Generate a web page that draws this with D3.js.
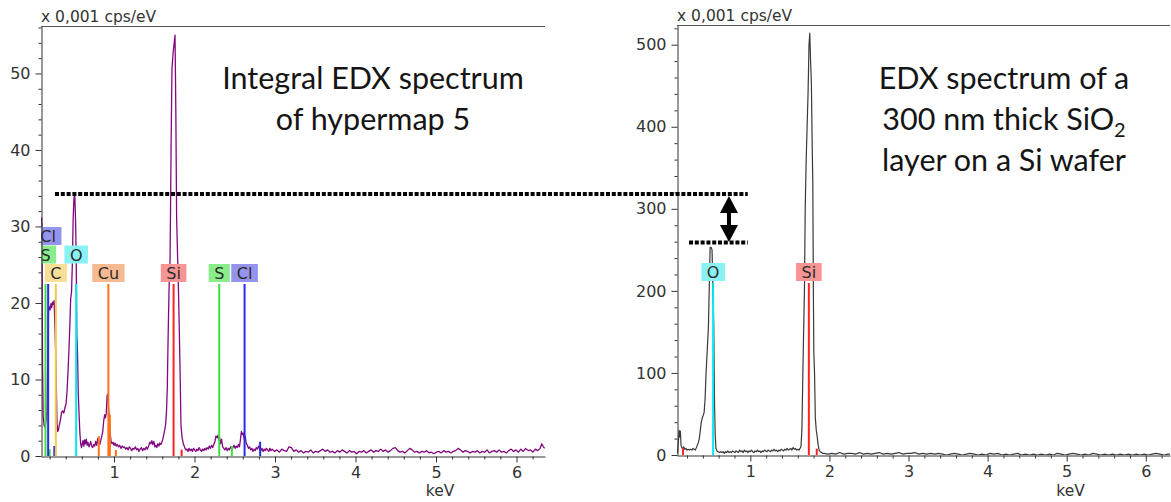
<!DOCTYPE html>
<html>
<head>
<meta charset="utf-8">
<script src="https://cdn.jsdelivr.net/npm/d3@7"></script>
<style>
  body { margin: 0; background: #fff; }
  svg { display: block; }
  .tick text { font-family: 'DejaVu Sans', Verdana, sans-serif; font-size: 16px; fill: #333; }
  .unit { font-family: 'DejaVu Sans', Verdana, sans-serif; font-size: 15.5px; fill: #333; }
  .note { font-family: Lato, 'Open Sans', sans-serif; font-size: 30.5px; fill: #151515; }
  .tag { font-family: 'DejaVu Sans', Verdana, sans-serif; font-size: 16px; fill: #2a2a2a; }
</style>
</head>
<body>
<svg id="chart" width="1171" height="502"></svg>
<script>
// tick labels
const xTicks = [1, 2, 3, 4, 5, 6]
const leftYTicks = [0, 10, 20, 30, 40, 50]
const rightYTicks = [0, 100, 200, 300, 400, 500]

// integral spectrum of hypermap 5, [keV, x0.001 cps/eV]
const hypermapSpectrum = [
  [0.100, 31.2], [0.106, 29.8], [0.112, 12.0], [0.120, 5.2], [0.132, 4.0], [0.144, 3.8], [0.156, 4.6],
  [0.166, 5.8], [0.176, 11.8], [0.186, 18.9], [0.196, 19.5], [0.206, 19.1], [0.216, 19.9], [0.226, 19.4],
  [0.236, 20.1], [0.246, 19.8], [0.256, 20.3], [0.266, 16.8], [0.276, 13.4], [0.284, 8.7], [0.292, 4.3],
  [0.300, 3.2], [0.310, 3.4], [0.320, 4.0], [0.334, 4.7], [0.348, 5.7], [0.362, 5.9], [0.376, 5.6],
  [0.390, 6.3], [0.404, 6.8], [0.416, 8.4], [0.428, 10.9], [0.440, 13.8], [0.452, 17.3], [0.462, 20.6],
  [0.472, 21.4], [0.482, 24.9], [0.492, 30.8], [0.502, 33.6], [0.512, 34.4], [0.522, 30.9], [0.530, 26.4],
  [0.538, 15.9], [0.546, 13.7], [0.556, 8.3], [0.566, 5.4], [0.576, 3.0], [0.586, 1.6], [0.596, 1.1],
  [0.606, 1.6], [0.615, 2.0], [0.625, 1.3], [0.635, 2.1], [0.645, 1.6], [0.655, 2.2], [0.665, 1.4],
  [0.675, 1.8], [0.690, 1.2], [0.700, 1.5], [0.710, 1.9], [0.722, 1.3], [0.735, 1.1], [0.748, 1.5],
  [0.760, 1.3], [0.772, 1.9], [0.785, 1.4], [0.798, 2.3], [0.810, 1.7], [0.822, 1.5], [0.835, 2.0],
  [0.848, 2.6], [0.860, 3.2], [0.872, 4.6], [0.884, 5.4], [0.894, 5.0], [0.904, 5.6], [0.914, 7.9],
  [0.924, 8.1], [0.934, 6.0], [0.944, 4.4], [0.954, 2.8], [0.964, 1.9], [0.976, 1.6], [0.988, 1.8],
  [1.000, 1.4], [1.012, 1.7], [1.025, 1.3], [1.040, 1.5], [1.055, 1.2], [1.070, 1.4], [1.085, 1.0],
  [1.100, 1.3], [1.115, 1.1], [1.130, 1.2], [1.145, 0.9], [1.160, 1.1], [1.175, 0.8], [1.190, 1.2],
  [1.205, 1.0], [1.220, 0.7], [1.235, 1.0], [1.250, 0.9], [1.265, 1.2], [1.280, 0.8], [1.295, 1.0],
  [1.310, 0.6], [1.325, 0.9], [1.340, 1.1], [1.355, 0.7], [1.370, 1.0], [1.385, 0.8], [1.400, 1.2],
  [1.415, 0.9], [1.430, 1.3], [1.445, 1.8], [1.458, 1.6], [1.470, 2.0], [1.482, 1.5], [1.495, 1.9],
  [1.508, 1.2], [1.520, 1.4], [1.532, 1.1], [1.545, 1.6], [1.558, 1.3], [1.570, 1.7], [1.582, 1.5],
  [1.594, 1.8], [1.606, 2.2], [1.618, 2.8], [1.630, 3.4], [1.642, 4.2], [1.652, 5.8], [1.662, 9.0],
  [1.672, 15.5], [1.684, 22.0], [1.696, 25.5], [1.702, 32.0], [1.710, 41.6], [1.720, 50.6], [1.735, 52.8],
  [1.748, 54.0], [1.758, 55.0], [1.768, 45.0], [1.778, 31.0], [1.790, 26.0], [1.800, 22.0], [1.812, 16.0],
  [1.822, 10.4], [1.832, 3.9], [1.846, 2.4], [1.861, 1.6], [1.875, 1.2], [1.890, 0.8], [1.903, 0.9],
  [1.918, 0.6], [1.932, 1.0], [1.946, 0.7], [1.960, 0.9], [1.974, 0.6], [1.988, 1.0], [2.002, 0.8],
  [2.016, 0.6], [2.030, 0.9], [2.044, 0.7], [2.058, 1.1], [2.072, 0.8], [2.086, 0.6], [2.100, 0.9],
  [2.114, 0.7], [2.128, 1.0], [2.142, 0.8], [2.156, 1.1], [2.170, 0.9], [2.184, 1.3], [2.198, 1.0],
  [2.212, 1.4], [2.226, 1.1], [2.240, 1.5], [2.254, 1.9], [2.266, 2.6], [2.278, 2.4], [2.290, 2.7],
  [2.300, 2.1], [2.310, 2.5], [2.322, 1.6], [2.336, 2.2], [2.350, 1.2], [2.364, 1.0], [2.378, 0.8],
  [2.392, 1.1], [2.406, 0.7], [2.420, 1.0], [2.434, 0.8], [2.448, 1.2], [2.462, 0.9], [2.476, 1.1],
  [2.490, 1.4], [2.504, 1.0], [2.518, 1.3], [2.532, 1.1], [2.546, 1.5], [2.558, 1.2], [2.570, 2.1],
  [2.582, 3.2], [2.594, 2.8], [2.606, 3.0], [2.618, 2.2], [2.630, 2.6], [2.642, 1.7], [2.656, 1.4],
  [2.670, 1.0], [2.684, 1.2], [2.698, 0.8], [2.712, 1.0], [2.726, 0.6], [2.740, 0.9], [2.754, 0.7],
  [2.768, 1.1], [2.782, 0.9], [2.796, 1.3], [2.810, 1.0], [2.824, 0.7], [2.838, 1.0], [2.852, 0.6],
  [2.866, 0.9], [2.880, 0.7], [2.894, 1.0], [2.908, 0.8], [2.922, 0.6], [2.936, 1.0], [2.950, 0.7],
  [2.964, 0.9], [2.994, 0.6], [3.024, 0.8], [3.054, 0.5], [3.084, 0.9], [3.114, 0.7], [3.144, 0.6],
  [3.174, 1.2], [3.204, 1.1], [3.234, 0.6], [3.264, 0.8], [3.294, 0.5], [3.324, 0.7], [3.354, 0.4],
  [3.384, 0.6], [3.414, 0.5], [3.444, 0.8], [3.474, 0.4], [3.504, 0.6], [3.534, 0.5], [3.564, 0.7],
  [3.594, 0.9], [3.624, 0.6], [3.654, 0.8], [3.684, 0.5], [3.714, 0.6], [3.744, 0.4], [3.774, 0.7],
  [3.804, 0.5], [3.834, 0.8], [3.864, 0.6], [3.894, 0.4], [3.924, 0.7], [3.954, 0.5], [3.984, 0.6],
  [4.014, 0.3], [4.044, 0.6], [4.074, 0.5], [4.104, 0.7], [4.134, 0.4], [4.164, 0.6], [4.194, 0.8],
  [4.224, 0.5], [4.254, 0.7], [4.284, 0.6], [4.314, 0.9], [4.344, 0.6], [4.374, 0.8], [4.404, 0.5],
  [4.434, 0.7], [4.464, 1.0], [4.494, 1.1], [4.524, 0.7], [4.554, 0.5], [4.584, 0.6], [4.614, 0.4],
  [4.644, 0.7], [4.674, 1.0], [4.704, 0.8], [4.734, 0.5], [4.764, 0.6], [4.794, 0.4], [4.824, 0.6],
  [4.854, 0.5], [4.884, 0.7], [4.914, 0.4], [4.944, 0.5], [4.974, 0.3], [5.004, 0.5], [5.034, 0.6],
  [5.064, 0.4], [5.094, 0.7], [5.124, 0.5], [5.154, 0.6], [5.184, 0.4], [5.214, 0.6], [5.244, 0.7],
  [5.274, 1.0], [5.304, 0.8], [5.334, 0.5], [5.364, 0.7], [5.394, 0.6], [5.424, 0.4], [5.454, 0.6],
  [5.484, 0.5], [5.514, 0.7], [5.544, 0.4], [5.574, 0.6], [5.604, 0.5], [5.634, 0.8], [5.664, 0.4],
  [5.694, 0.6], [5.724, 0.7], [5.754, 0.5], [5.784, 0.8], [5.814, 0.5], [5.844, 0.6], [5.874, 0.4],
  [5.904, 0.7], [5.934, 0.9], [5.964, 0.6], [5.994, 0.8], [6.024, 0.5], [6.054, 0.9], [6.084, 0.6],
  [6.114, 1.0], [6.144, 0.7], [6.174, 0.8], [6.204, 0.5], [6.234, 0.9], [6.264, 0.7], [6.294, 1.0],
  [6.314, 1.6], [6.334, 1.2], [6.350, 1.0]
]

// 300 nm SiO2 on Si reference spectrum, [keV, x0.001 cps/eV]
const waferSpectrum = [
  [0.078, 2], [0.092, 18], [0.100, 30], [0.108, 22], [0.116, 29], [0.124, 12], [0.134, 9], [0.146, 8],
  [0.158, 10], [0.170, 7], [0.185, 8], [0.200, 6], [0.215, 7], [0.230, 6], [0.245, 7], [0.260, 6],
  [0.275, 8], [0.290, 7], [0.305, 6], [0.318, 9], [0.330, 12], [0.342, 15], [0.355, 20], [0.368, 30],
  [0.380, 40], [0.392, 45], [0.404, 48], [0.416, 52], [0.428, 68], [0.440, 99], [0.455, 127], [0.470, 156],
  [0.482, 210], [0.492, 253], [0.505, 253], [0.516, 250], [0.528, 200], [0.538, 156], [0.548, 60],
  [0.556, 25], [0.566, 8], [0.580, 5], [0.595, 4], [0.610, 3], [0.625, 4], [0.640, 3], [0.655, 4],
  [0.670, 2], [0.685, 4], [0.700, 3], [0.715, 5], [0.730, 3], [0.745, 4], [0.760, 3], [0.775, 5],
  [0.790, 4], [0.805, 3], [0.820, 5], [0.835, 4], [0.850, 3], [0.865, 6], [0.880, 4], [0.895, 5],
  [0.910, 3], [0.925, 6], [0.940, 4], [0.955, 5], [0.970, 3], [0.985, 5], [1.000, 4], [1.015, 6],
  [1.030, 4], [1.045, 3], [1.060, 5], [1.075, 4], [1.090, 6], [1.105, 4], [1.120, 5], [1.135, 3],
  [1.150, 5], [1.165, 4], [1.180, 6], [1.195, 5], [1.210, 4], [1.225, 6], [1.240, 5], [1.255, 4],
  [1.270, 6], [1.285, 5], [1.300, 7], [1.315, 5], [1.330, 6], [1.345, 4], [1.360, 6], [1.375, 5],
  [1.390, 7], [1.405, 6], [1.420, 5], [1.435, 7], [1.450, 6], [1.465, 8], [1.480, 6], [1.495, 7],
  [1.510, 8], [1.525, 6], [1.540, 9], [1.555, 7], [1.570, 8], [1.585, 6], [1.600, 7], [1.615, 6],
  [1.628, 8], [1.640, 10], [1.652, 30], [1.662, 87], [1.672, 140], [1.684, 200], [1.694, 300],
  [1.706, 359], [1.718, 400], [1.730, 441], [1.742, 500], [1.752, 514], [1.762, 480], [1.772, 453],
  [1.782, 380], [1.790, 331], [1.797, 200], [1.803, 125], [1.812, 100], [1.822, 45], [1.834, 30],
  [1.846, 22], [1.858, 12], [1.870, 6], [1.884, 4], [1.900, 3], [1.915, 2], [1.930, 2], [1.980, 1],
  [2.030, 2], [2.080, 1], [2.130, 3], [2.180, 1], [2.230, 2], [2.280, 2], [2.330, 1], [2.380, 3],
  [2.430, 1], [2.480, 2], [2.530, 1], [2.580, 2], [2.630, 3], [2.680, 1], [2.730, 2], [2.780, 1],
  [2.830, 2], [2.880, 3], [2.930, 1], [2.980, 2], [3.030, 2], [3.080, 3], [3.130, 1], [3.180, 2],
  [3.230, 1], [3.280, 2], [3.330, 1], [3.380, 2], [3.430, 1], [3.480, 0], [3.530, 1], [3.580, 2],
  [3.630, 1], [3.680, 0], [3.730, 1], [3.780, 2], [3.830, 1], [3.880, 0], [3.930, 1], [3.980, 0],
  [4.030, 2], [4.080, 1], [4.130, 2], [4.180, 0], [4.230, 1], [4.280, 0], [4.330, 1], [4.380, 2],
  [4.430, 0], [4.480, 1], [4.530, 0], [4.580, 1], [4.630, 0], [4.680, 1], [4.730, 0], [4.780, 1],
  [4.830, 0], [4.880, 2], [4.930, 1], [4.980, 0], [5.030, 1], [5.080, 2], [5.130, 1], [5.180, 0],
  [5.230, 1], [5.280, 0], [5.330, 2], [5.380, 1], [5.430, 0], [5.480, 1], [5.530, 0], [5.580, 1],
  [5.630, 0], [5.680, 1], [5.730, 0], [5.780, 1], [5.830, 0], [5.880, 1], [5.930, 0], [5.980, 1],
  [6.030, 0], [6.080, 1], [6.130, 2], [6.180, 1], [6.230, 0], [6.280, 1], [6.306, 1]
]

// element marker lines: [element, keV]; K lines first, then L lines (label stacking order)
const leftMarkers = [['C', 0.277], ['O', 0.53], ['Si', 1.74], ['S', 2.307], ['Cl', 2.622], ['Cu', 0.93], ['S', 0.149], ['Cl', 0.182]]
const rightMarkers = [['O', 0.53], ['Si', 1.74]]
// secondary lines: [element, keV, relative height]
const leftMinorMarkers = [['Cl', 0.258, 0.058], ['S', 0.200, 0.04], ['Cu', 0.811, 0.116], ['Cu', 0.949, 0.24],
  ['Cu', 1.023, 0.035], ['Si', 1.84, 0.037], ['S', 2.464, 0.058], ['Cl', 2.815, 0.083]]
const rightMinorMarkers = [['Si', 0.149, 0.04], ['Si', 1.84, 0.037]]

// levels compared between the two spectra (O peak heights)
const leftLevel = 34.25
const rightLevel = 259

const lineColor = { C: '#f2c84e', O: '#00e6f0', Si: '#ff2424', S: '#3ee03e', Cl: '#2a2ae8', Cu: '#ff7418' }
const boxColor = { C: '#f8df98', O: '#8af2f4', Si: '#f79494', S: '#8aec8a', Cl: '#9494ee', Cu: '#f6b990' }

const svg = d3.select('#chart')

const panels = [
  { id: 'l', left: 41, right: 545, bottom: 456, top: 26, keV: [0.093, 6.354], cps: [0, 56.2],
    yTicks: leftYTicks, yStep: 2, data: hypermapSpectrum, stroke: '#82087f', width: 1.3,
    markers: leftMarkers, minor: leftMinorMarkers },
  { id: 'r', left: 677, right: 1170, bottom: 455, top: 25, keV: [0.073, 6.306], cps: [0, 524],
    yTicks: rightYTicks, yStep: 20, data: waferSpectrum, stroke: '#3a3a3a', width: 1.2,
    markers: rightMarkers, minor: rightMinorMarkers }
]

panels.forEach(p => {
  p.x = d3.scaleLinear().domain(p.keV).range([p.left, p.right])
  p.y = d3.scaleLinear().domain(p.cps).range([p.bottom, p.top])

  svg.append('clipPath').attr('id', 'clip-' + p.id)
    .append('rect')
    .attr('x', p.left).attr('y', p.top)
    .attr('width', p.right - p.left).attr('height', p.bottom - p.top)

  const plot = svg.append('g').attr('clip-path', 'url(#clip-' + p.id + ')')

  // spectrum
  plot.append('path')
    .datum(p.data)
    .attr('fill', 'none')
    .attr('stroke', p.stroke)
    .attr('stroke-width', p.width)
    .attr('stroke-linejoin', 'round')
    .attr('d', d3.line().x(d => p.x(d[0])).y(d => p.y(d[1])))

  // marker lines reach 40% of the plot height
  const full = 0.4 * (p.bottom - p.top)
  const lineTop = p.bottom - full

  plot.selectAll('.minor')
    .data(p.minor)
    .enter().append('line')
    .attr('x1', d => p.x(d[1])).attr('x2', d => p.x(d[1]))
    .attr('y1', p.bottom).attr('y2', d => p.bottom - full * d[2])
    .attr('stroke', d => lineColor[d[0]])
    .attr('stroke-width', 2)

  plot.selectAll('.main')
    .data(p.markers)
    .enter().append('line')
    .attr('x1', d => p.x(d[1])).attr('x2', d => p.x(d[1]))
    .attr('y1', p.bottom).attr('y2', lineTop)
    .attr('stroke', d => lineColor[d[0]])
    .attr('stroke-width', 2)

  // labels, stacked upwards when they would collide
  const tags = plot.selectAll('.tag')
    .data(p.markers)
    .enter().append('g')
  tags.append('rect')
  tags.append('text')
    .attr('class', 'tag')
    .attr('text-anchor', 'middle')
    .text(d => d[0])

  const placed = []
  tags.each(function(d) {
    const w = this.querySelector('text').getComputedTextLength() + 11
    const cx = p.x(d[1])
    const box = { x0: cx - w / 2, x1: cx + w / 2, row: 0 }
    while (placed.some(b => b.row === box.row && b.x0 < box.x1 && box.x0 < b.x1)) box.row++
    placed.push(box)
    const top = lineTop - 2 - 18 - box.row * 18.5
    d3.select(this).select('rect')
      .attr('x', box.x0).attr('y', top)
      .attr('width', w).attr('height', 18)
      .attr('fill', boxColor[d[0]])
    d3.select(this).select('text')
      .attr('x', cx).attr('y', top + 15)
  })

  // axes
  const minorX = d3.range(1, 32).map(i => i / 5).filter(v => v % 1 > 0.01 && v % 1 < 0.99 && v < p.keV[1])
  const minorY = d3.range(p.cps[0], p.cps[1], p.yStep).filter(v => !p.yTicks.includes(v))

  svg.append('g')
    .attr('transform', 'translate(0,' + (p.bottom + 0.5) + ')')
    .attr('color', '#333')
    .call(d3.axisBottom(p.x).tickValues(xTicks).tickSize(6).tickSizeOuter(0).tickPadding(4).tickFormat(d3.format('d')))
  svg.append('g')
    .attr('transform', 'translate(0,' + (p.bottom + 0.5) + ')')
    .attr('color', '#333')
    .call(d3.axisBottom(p.x).tickValues(minorX).tickSize(3).tickFormat(''))
    .select('.domain').remove()

  svg.append('g')
    .attr('transform', 'translate(' + (p.left + 0.5) + ',0)')
    .attr('color', '#333')
    .call(d3.axisLeft(p.y).tickValues(p.yTicks).tickSize(6).tickSizeOuter(0).tickPadding(5).tickFormat(d3.format('d')))
  svg.append('g')
    .attr('transform', 'translate(' + (p.left + 0.5) + ',0)')
    .attr('color', '#333')
    .call(d3.axisLeft(p.y).tickValues(minorY).tickSize(3).tickFormat(''))
    .select('.domain').remove()

  svg.append('line')
    .attr('x1', p.left).attr('x2', p.right)
    .attr('y1', p.top + 0.5).attr('y2', p.top + 0.5)
    .attr('stroke', '#555')

  svg.append('text').attr('class', 'unit')
    .attr('x', p.left).attr('y', p.top - 4)
    .text('x 0,001 cps/eV')

  svg.append('text').attr('class', 'unit')
    .attr('x', p.x(5.05)).attr('y', 496)
    .attr('text-anchor', 'middle')
    .text('keV')
})

// annotations
const L = panels[0], R = panels[1]
svg.append('text').attr('class', 'note').attr('text-anchor', 'middle')
  .attr('x', 373).attr('y', 89).text('Integral EDX spectrum')
svg.append('text').attr('class', 'note').attr('text-anchor', 'middle')
  .attr('x', 373).attr('y', 130).text('of hypermap 5')

svg.append('text').attr('class', 'note').attr('text-anchor', 'middle')
  .attr('x', 1004).attr('y', 89).text('EDX spectrum of a')
const t2 = svg.append('text').attr('class', 'note').attr('text-anchor', 'middle')
  .attr('x', 1004).attr('y', 130)
t2.append('tspan').text('300 nm thick SiO')
t2.append('tspan').attr('font-size', '20px').attr('dy', 7).text('2')
svg.append('text').attr('class', 'note').attr('text-anchor', 'middle')
  .attr('x', 1004).attr('y', 171).text('layer on a Si wafer')

const yUp = L.y(leftLevel)
const yLow = R.y(rightLevel)
const xEnd = R.x(0.967)

svg.append('line')
  .attr('x1', L.x(0.267)).attr('x2', xEnd)
  .attr('y1', yUp).attr('y2', yUp)
  .attr('stroke', '#000').attr('stroke-width', 4).attr('stroke-dasharray', '4 1.8')
svg.append('line')
  .attr('x1', R.x(0.225)).attr('x2', xEnd)
  .attr('y1', yLow).attr('y2', yLow)
  .attr('stroke', '#000').attr('stroke-width', 4).attr('stroke-dasharray', '4 1.8')

const ax = R.x(0.73)
const a0 = yUp + 2, a1 = yLow - 0.5, head = 17, hw = 9, sw = 2
svg.append('path')
  .attr('fill', '#000')
  .attr('d', 'M' + ax + ',' + a0 +
    'L' + (ax + hw) + ',' + (a0 + head) + 'L' + (ax + sw) + ',' + (a0 + head) +
    'L' + (ax + sw) + ',' + (a1 - head) + 'L' + (ax + hw) + ',' + (a1 - head) +
    'L' + ax + ',' + a1 +
    'L' + (ax - hw) + ',' + (a1 - head) + 'L' + (ax - sw) + ',' + (a1 - head) +
    'L' + (ax - sw) + ',' + (a0 + head) + 'L' + (ax - hw) + ',' + (a0 + head) + 'Z')
</script>
</body>
</html>
